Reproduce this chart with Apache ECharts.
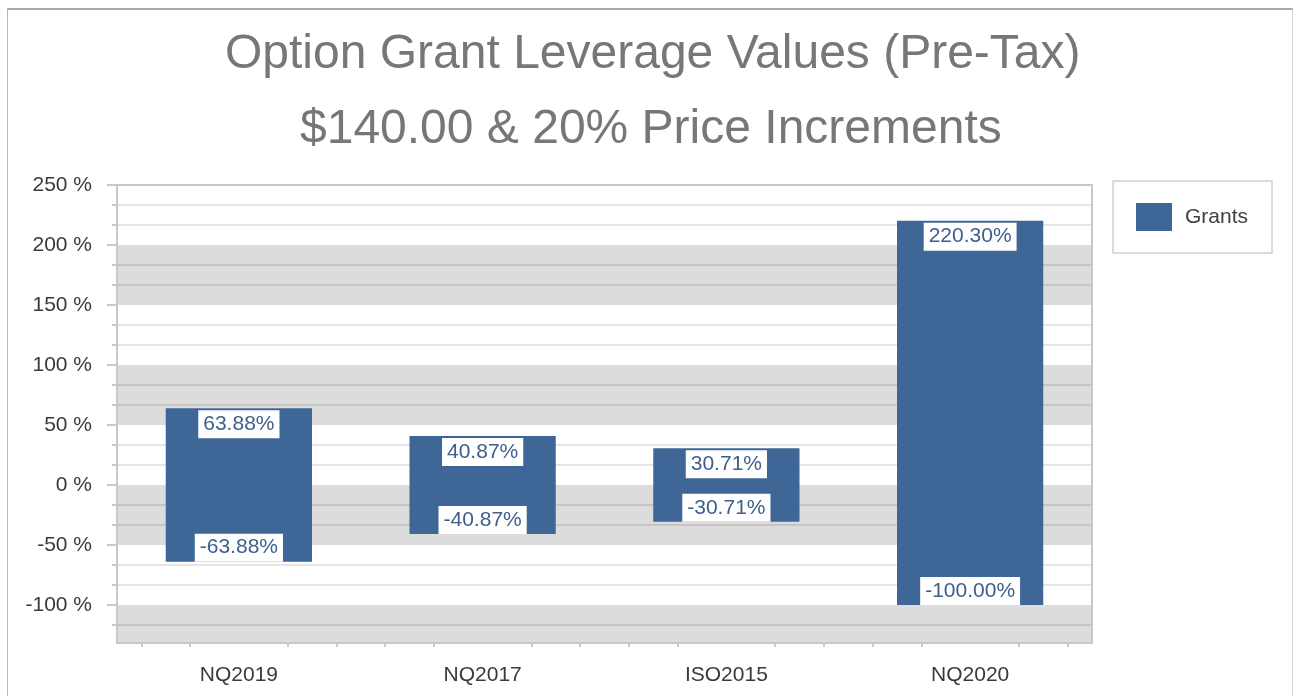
<!DOCTYPE html>
<html>
<head>
<meta charset="utf-8">
<title>Option Grant Leverage Values</title>
<script src="https://cdn.jsdelivr.net/npm/echarts@6/dist/echarts.min.js"></script>
<style>
  html, body { margin: 0; padding: 0; background: #fff; }
  #chart { position: absolute; left: 0; top: 0; width: 1293px; height: 696px; }
  #frame {
    position: absolute; left: 7px; top: 8px; width: 1284px; height: 720px;
    border-left: 1px solid #b8b8b8; border-top: 2px solid #a9a9a9; border-right: 1px solid #d4d4d4;
    pointer-events: none;
  }
</style>
</head>
<body>
<div id="chart"></div>
<div id="frame"></div>
<script>
const categories = ['NQ2019', 'NQ2017', 'ISO2015', 'NQ2020'];
const highValues = [63.88, 40.87, 30.71, 220.30];
const lowValues = [-63.88, -40.87, -30.71, -100.00];
const majorTicks = [-100, -50, 0, 50, 100, 150, 200, 250];
const axisMin = -131.67;
const axisMax = 250;

const FONT = 'Liberation Sans';
const BAR = '#3e6797';
const AXIS_GRAY = '#c8c8c8';

// two minor ticks between each major tick, plus the one below -100
const minorTicks = [];
for (let v = -150; v <= 200; v += 50) {
  [v + 50 / 3, v + 100 / 3].forEach(m => { if (m > axisMin && m < axisMax) minorTicks.push(m); });
}
// category minor ticks every fifth of a band
const catMinor = [];
categories.forEach((c, i) => { [-0.4, -0.2, 0.2, 0.4].forEach(d => catMinor.push(i + d)); });

const chart = echarts.init(document.getElementById('chart'), null, { renderer: 'canvas' });

const labelStyle = {
  show: true,
  formatter: p => p.value.toFixed(2) + '%',
  fontFamily: FONT,
  fontSize: 21,
  lineHeight: 24,
  color: '#3e5f8c',
  backgroundColor: '#ffffff',
  padding: [2, 5, 2, 5]
};

const titleStyle = { fontFamily: FONT, fontSize: 48, fontWeight: 'normal', color: '#777777', lineHeight: 75 };

chart.setOption({
  animation: false,
  textStyle: { fontFamily: FONT },
  title: [
    { text: 'Option Grant Leverage Values (Pre-Tax)', left: 225, top: 17, padding: 0, textStyle: titleStyle },
    { text: '$140.00 & 20% Price Increments', left: 300, top: 92, padding: 0, textStyle: titleStyle }
  ],
  legend: {
    data: ['Grants'],
    left: 1113,
    top: 181,
    orient: 'vertical',
    padding: [22, 24, 22, 23],
    borderColor: '#d0d0d0',
    borderWidth: 1.5,
    backgroundColor: '#ffffff',
    itemWidth: 36,
    itemHeight: 28,
    icon: 'rect',
    textStyle: { fontFamily: FONT, fontSize: 21, color: '#404040', padding: [0, 0, 0, 8] }
  },
  grid: {
    left: 117, right: 201, top: 185, bottom: 53, z: 1,
    show: true, borderColor: AXIS_GRAY, borderWidth: 2, backgroundColor: 'transparent'
  },
  xAxis: [
    {
      type: 'category',
      data: categories,
      axisLine: { onZero: false, lineStyle: { color: AXIS_GRAY, width: 2 } },
      axisTick: { alignWithLabel: true, length: 10, lineStyle: { color: AXIS_GRAY, width: 2 } },
      axisLabel: { fontFamily: FONT, fontSize: 21, color: '#3a3a3a', margin: 22 },
      splitLine: { show: false }
    },
    {
      type: 'value',
      min: -0.5,
      max: categories.length - 0.5,
      position: 'bottom',
      axisLine: { show: false, onZero: false },
      axisLabel: { show: false },
      splitLine: { show: false },
      axisTick: { show: true, length: 4, customValues: catMinor, lineStyle: { color: AXIS_GRAY, width: 2 } }
    }
  ],
  yAxis: [
    {
      // alternating bands, starting from the bottom edge
      type: 'value',
      min: axisMin,
      max: axisMax,
      axisLine: { show: false, onZero: false },
      axisLabel: { show: false },
      axisTick: { show: false, customValues: [axisMin].concat(majorTicks) },
      splitLine: { show: false },
      splitArea: { show: true, areaStyle: { color: ['#dcdcdc', '#ffffff'] } }
    },
    {
      type: 'value',
      min: axisMin,
      max: axisMax,
      interval: 50 / 3,
      position: 'left',
      axisLine: { show: false, onZero: false },
      axisLabel: { show: false },
      axisTick: { show: true, length: 5, customValues: minorTicks, lineStyle: { color: AXIS_GRAY, width: 2 } },
      splitLine: { show: true, lineStyle: { color: 'rgba(0,0,0,0.1)', width: 2 } }
    },
    {
      type: 'value',
      min: axisMin,
      max: axisMax,
      interval: 50,
      position: 'left',
      axisLine: { show: true, onZero: false, lineStyle: { color: AXIS_GRAY, width: 2 } },
      axisTick: { show: true, length: 10, customValues: majorTicks, lineStyle: { color: AXIS_GRAY, width: 2 } },
      axisLabel: {
        customValues: majorTicks,
        formatter: v => Math.round(v) + ' %',
        fontFamily: FONT, fontSize: 21, color: '#3a3a3a', margin: 25
      },
      splitLine: { show: false }
    }
  ],
  series: [
    {
      name: 'Grants',
      type: 'bar',
      stack: 'range',
      barWidth: '60%',
      yAxisIndex: 2,
      itemStyle: { color: BAR },
      label: Object.assign({ position: 'insideTop', distance: 2 }, labelStyle),
      data: highValues
    },
    {
      name: 'Grants',
      type: 'bar',
      stack: 'range',
      barWidth: '60%',
      yAxisIndex: 2,
      itemStyle: { color: BAR },
      label: Object.assign({ position: 'insideBottom', distance: 0 }, labelStyle),
      data: lowValues
    }
  ]
});
</script>
</body>
</html>
